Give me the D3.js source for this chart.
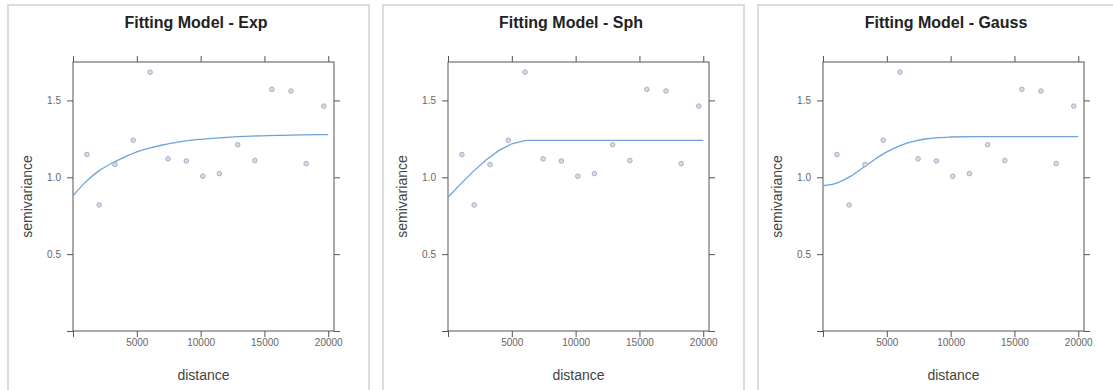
<!DOCTYPE html>
<html>
<head>
<meta charset="utf-8">
<script src="https://cdn.jsdelivr.net/npm/d3@7"></script>
<style>
  body { margin: 0; background: #fff; }
  svg { display: block; font-family: "Liberation Sans", Arial, sans-serif; }
</style>
</head>
<body>
<div id="chart"></div>
<script>
// sample variogram (same in every panel)
const distances = [1090, 2050, 3290, 4720, 6040, 7450, 8880, 10170, 11470, 12900, 14250, 15580, 17080, 18270, 19650];
const gammas = [1.148, 0.82, 1.083, 1.241, 1.684, 1.12, 1.106, 1.007, 1.024, 1.212, 1.109, 1.572, 1.561, 1.089, 1.463];

// fitted model lines
const modelNames = ['Exp', 'Sph', 'Gauss'];
const expDist = [0, 1000, 2000, 3000, 4000, 5000, 6000, 7000, 8000, 9000, 10000, 12000, 14000, 16000, 18000, 20000];
const expFit = [0.88, 0.97, 1.04, 1.09, 1.13, 1.165, 1.19, 1.21, 1.225, 1.238, 1.247, 1.26, 1.268, 1.272, 1.276, 1.278];
const sphDist = [0, 1000, 2000, 3000, 4000, 5000, 6000, 6300, 20000];
const sphFit = [0.87, 0.957, 1.04, 1.114, 1.175, 1.218, 1.239, 1.24, 1.24];
const gaussDist = [0, 1000, 2000, 3000, 4000, 5000, 6000, 7000, 8000, 9000, 10000, 12000, 14000, 16000, 18000, 20000];
const gaussFit = [0.945, 0.96, 0.999, 1.054, 1.113, 1.165, 1.205, 1.232, 1.249, 1.258, 1.262, 1.265, 1.265, 1.265, 1.265, 1.265];

const xTicks = [0, 5000, 10000, 15000, 20000];
const xTickLabels = ['', '5000', '10000', '15000', '20000'];
const yTicks = [0, 0.5, 1.0, 1.5];
const yTickLabels = ['', '0.5', '1.0', '1.5'];

const fits = [
  { dist: expDist, fit: expFit },
  { dist: sphDist, fit: sphFit },
  { dist: gaussDist, fit: gaussFit }
];

const W = 1113, H = 390;
const panelW = 361, panelStep = 375, panelX0 = 8, panelY0 = 5;
const plot = { left: 65, right: 326, top: 57, bottom: 326 };
const blue = '#6fa2da';
const axisCol = '#555';

const svg = d3.select('#chart').append('svg')
  .attr('width', W)
  .attr('height', H);

const x = d3.scaleLinear().domain([0, 20450]).range([plot.left, plot.right]);
const y = d3.scaleLinear().domain([0, 1.75]).range([plot.bottom, plot.top]);

modelNames.forEach((name, i) => {
  const g = svg.append('g')
    .attr('transform', `translate(${panelX0 + i * panelStep},${panelY0})`);

  // panel frame
  g.append('rect')
    .attr('x', 0).attr('y', 0)
    .attr('width', panelW).attr('height', H + 20)
    .attr('fill', '#fff')
    .attr('stroke', '#dcdcdc')
    .attr('stroke-width', 2);

  g.append('text')
    .attr('x', 188).attr('y', 23)
    .attr('text-anchor', 'middle')
    .attr('font-size', 16)
    .attr('font-weight', 'bold')
    .attr('fill', '#222')
    .text('Fitting Model - ' + name);

  // axes on all four sides, lattice style
  const axes = [
    { ax: d3.axisBottom(x), t: `translate(0,${plot.bottom})`, vals: xTicks, labels: xTickLabels, pad: 2 },
    { ax: d3.axisTop(x), t: `translate(0,${plot.top})`, vals: xTicks, labels: null, pad: 2 },
    { ax: d3.axisLeft(y), t: `translate(${plot.left},0)`, vals: yTicks, labels: yTickLabels, pad: 6 },
    { ax: d3.axisRight(y), t: `translate(${plot.right},0)`, vals: yTicks, labels: null, pad: 6 }
  ];
  axes.forEach(a => {
    const axis = a.ax.tickValues(a.vals).tickSizeInner(6).tickSizeOuter(0).tickPadding(a.pad)
      .tickFormat((d, k) => a.labels ? a.labels[k] : '');
    const ag = g.append('g').attr('transform', a.t).call(axis);
    ag.select('.domain').remove();
    ag.selectAll('line').attr('stroke', axisCol);
    ag.selectAll('text').attr('fill', '#666').attr('font-size', 10)
      .attr('font-family', '"Liberation Sans", Arial, sans-serif');
  });

  g.append('rect')
    .attr('x', plot.left).attr('y', plot.top)
    .attr('width', plot.right - plot.left).attr('height', plot.bottom - plot.top)
    .attr('fill', 'none')
    .attr('stroke', axisCol)
    .attr('stroke-width', 1);

  // fitted line
  const f = fits[i];
  const line = d3.line()
    .x(d => x(d[0]))
    .y(d => y(d[1]))
    .curve(i === 1 ? d3.curveLinear : d3.curveMonotoneX);
  g.append('path')
    .datum(f.dist.map((d, k) => [d, f.fit[k]]))
    .attr('d', line)
    .attr('fill', 'none')
    .attr('stroke', blue)
    .attr('stroke-width', 1.3);

  // sample points
  g.selectAll('circle.pt')
    .data(distances.map((d, k) => [d, gammas[k]]))
    .join('circle')
    .attr('class', 'pt')
    .attr('cx', d => x(d[0]))
    .attr('cy', d => y(d[1]))
    .attr('r', 2.3)
    .attr('fill', '#d6dce6')
    .attr('stroke', '#a4b2c6')
    .attr('stroke-width', 1);

  g.append('text')
    .attr('x', (plot.left + plot.right) / 2).attr('y', 375)
    .attr('text-anchor', 'middle')
    .attr('font-size', 14)
    .attr('fill', '#444')
    .text('distance');

  g.append('text')
    .attr('transform', `translate(24,${(plot.top + plot.bottom) / 2}) rotate(-90)`)
    .attr('text-anchor', 'middle')
    .attr('font-size', 14)
    .attr('fill', '#444')
    .text('semivariance');
});
</script>
</body>
</html>
